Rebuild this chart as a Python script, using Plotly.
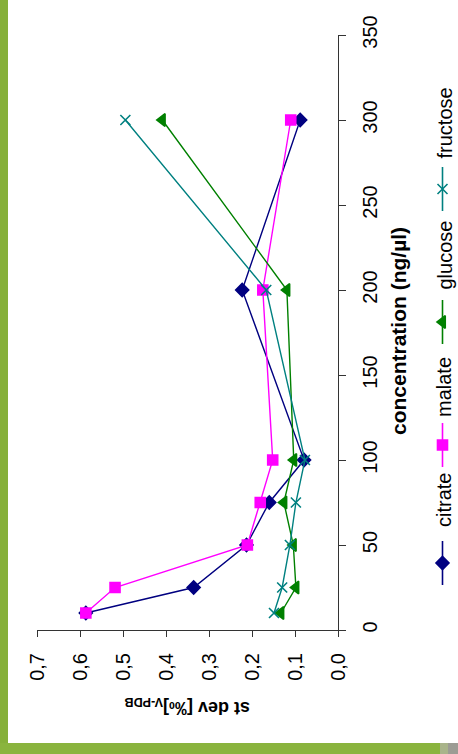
import plotly.graph_objects as go

# Standard deviation of isotope measurements vs. sample concentration
conc = [10, 25, 50, 75, 100, 200, 300]
citrate = [0.587, 0.336, 0.213, 0.160, 0.079, 0.223, 0.088]
malate = [0.587, 0.519, 0.211, 0.181, 0.152, 0.175, 0.110]
glucose = [0.133, 0.098, 0.104, 0.126, 0.103, 0.119, 0.409]
fructose = [0.149, 0.130, 0.112, 0.098, 0.077, 0.167, 0.495]

series_names = ["citrate", "malate", "glucose", "fructose"]
series_values = [citrate, malate, glucose, fructose]
series_colors = ["#000080", "#FF00FF", "#008000", "#008080"]
series_symbols = ["diamond", "square", "triangle-left", "x-thin-open"]
series_sizes = [10, 10, 11, 10]

stdev_ticks = [0.0, 0.1, 0.2, 0.3, 0.4, 0.5, 0.6, 0.7]
conc_ticks = [0, 50, 100, 150, 200, 250, 300, 350]

W, H = 458, 754
FONT = "Liberation Sans, Arial, sans-serif"


def px_x(p):
    return p / W


def px_y(p):
    return 1 - p / H


fig = go.Figure()

# Data series: st dev runs horizontally, concentration vertically
for name, vals, col, sym, sz in zip(series_names, series_values, series_colors,
                                    series_symbols, series_sizes):
    fig.add_trace(go.Scatter(
        x=vals, y=conc, mode="lines+markers", name=name,
        line=dict(color=col, width=1.4),
        marker=dict(symbol=sym, size=sz, color=col,
                    line=dict(color=col, width=1.6)),
        xaxis="x", yaxis="y", showlegend=False,
    ))

# Key: one vertical sample per series, laid out along the right edge
key_marker_px = [563, 445, 322, 189]
key_text_px = [529, 419, 292, 161]
key_x_px = 442.5
for name, col, sym, sz, my in zip(series_names, series_colors, series_symbols,
                                  series_sizes, key_marker_px):
    fig.add_trace(go.Scatter(
        x=[key_x_px, key_x_px], y=[my - 22, my + 22], mode="lines",
        line=dict(color=col, width=1.6), xaxis="x2", yaxis="y2",
        showlegend=False, hoverinfo="skip",
    ))
    fig.add_trace(go.Scatter(
        x=[key_x_px], y=[my], mode="markers",
        marker=dict(symbol=sym, size=sz, color=col, line=dict(color=col, width=1.6)),
        xaxis="x2", yaxis="y2", showlegend=False, hoverinfo="skip",
    ))

annotations = [
    dict(text="<b>concentration (ng/µl)</b>", x=px_x(398), y=px_y(331),
         xref="paper", yref="paper", showarrow=False, textangle=-90,
         xanchor="center", yanchor="middle",
         font=dict(family=FONT, size=21, color="#000000")),
    dict(text="<b>st dev [‰]<sub>V-PDB</sub></b>", x=px_x(187), y=px_y(707),
         xref="paper", yref="paper", showarrow=False, textangle=180,
         xanchor="center", yanchor="middle",
         font=dict(family=FONT, size=18, color="#000000")),
]
for name, ty in zip(series_names, key_text_px):
    annotations.append(dict(
        text=name, x=px_x(444), y=px_y(ty), xref="paper", yref="paper",
        showarrow=False, textangle=-90, xanchor="center", yanchor="bottom",
        font=dict(family=FONT, size=20, color="#000000"),
    ))

# Green frame around the white panel
green = "#8ab43e"
shapes = [
    dict(type="rect", xref="paper", yref="paper", x0=0, x1=px_x(8), y0=0, y1=1,
         fillcolor="#86b03a", line_width=0, layer="below"),
    dict(type="rect", xref="paper", yref="paper", x0=0, x1=1, y0=0, y1=px_y(743),
         fillcolor=green, line_width=0, layer="below"),
    dict(type="rect", xref="paper", yref="paper", x0=px_x(440), x1=px_x(448),
         y0=0, y1=px_y(743), fillcolor="#a9b48a", line_width=0, layer="below"),
    dict(type="rect", xref="paper", yref="paper", x0=px_x(448), x1=1,
         y0=0, y1=px_y(743), fillcolor="#9c9c94", line_width=0, layer="below"),
]

axis_font = dict(family=FONT, size=20, color="#000000")

fig.update_layout(
    width=W, height=H,
    margin=dict(l=0, r=0, t=0, b=0, pad=0, autoexpand=False),
    paper_bgcolor="#ffffff", plot_bgcolor="rgba(0,0,0,0)",
    separators=",.",
    showlegend=False,
    xaxis=dict(
        domain=[px_x(37.3), px_x(338)], range=[0.7, 0], anchor="y",
        tickvals=stdev_ticks, tickformat=".1f", tickangle=-90,
        ticks="outside", ticklen=6, tickcolor="#333333", tickwidth=1,
        showline=True, linecolor="#333333", linewidth=1,
        showgrid=False, zeroline=False, tickfont=axis_font,
        ticklabelstandoff=8, automargin=False,
    ),
    yaxis=dict(
        domain=[px_y(630), px_y(35)], range=[0, 350], anchor="x", side="right",
        tickvals=conc_ticks, tickangle=-90,
        ticks="outside", ticklen=7, tickcolor="#333333", tickwidth=1,
        showline=True, linecolor="#333333", linewidth=1,
        showgrid=False, zeroline=False, tickfont=axis_font,
        ticklabelstandoff=7, automargin=False,
    ),
    xaxis2=dict(domain=[0, 1], range=[0, W], anchor="y2", visible=False,
                fixedrange=True, automargin=False),
    yaxis2=dict(domain=[0, 1], range=[H, 0], anchor="x2", visible=False,
                fixedrange=True, automargin=False),
    annotations=annotations,
    shapes=shapes,
)

fig.write_html("out.html")
